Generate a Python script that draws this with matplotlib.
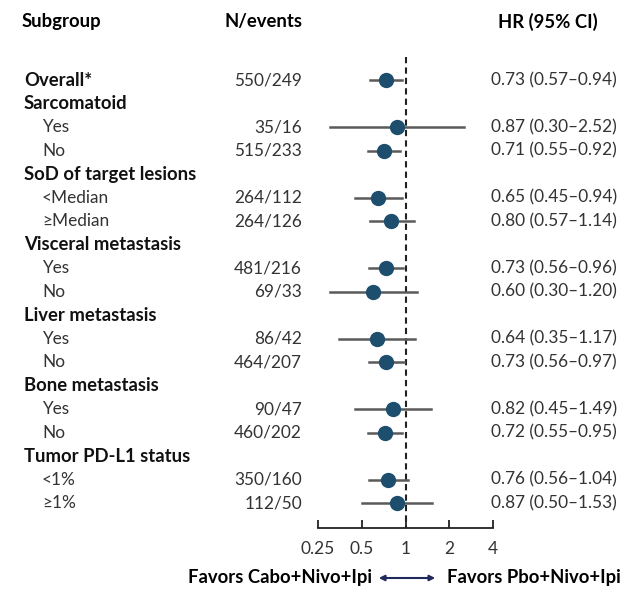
import matplotlib.pyplot as plt
from matplotlib.transforms import blended_transform_factory

plt.rcParams['font.family'] = ['Lato', 'DejaVu Sans']

# rows: (label, is_header)
labels = ["Overall*", "Sarcomatoid", "Yes", "No", "SoD of target lesions", "<Median", "\u2265Median",
          "Visceral metastasis", "Yes", "No", "Liver metastasis", "Yes", "No",
          "Bone metastasis", "Yes", "No", "Tumor PD-L1 status", "<1%", "\u22651%"]
bold = [True, True, False, False, True, False, False, True, False, False, True, False, False,
        True, False, False, True, False, False]
n_events = ["550/249", "", "35/16", "515/233", "", "264/112", "264/126", "", "481/216", "69/33",
            "", "86/42", "464/207", "", "90/47", "460/202", "", "350/160", "112/50"]
hr = [0.73, None, 0.87, 0.71, None, 0.65, 0.80, None, 0.73, 0.60, None, 0.64, 0.73,
      None, 0.82, 0.72, None, 0.76, 0.87]
lo = [0.57, None, 0.30, 0.55, None, 0.45, 0.57, None, 0.56, 0.30, None, 0.35, 0.56,
      None, 0.45, 0.55, None, 0.56, 0.50]
hi = [0.94, None, 2.52, 0.92, None, 0.94, 1.14, None, 0.96, 1.20, None, 1.17, 0.97,
      None, 1.49, 0.95, None, 1.04, 1.53]
ticks = [0.25, 0.5, 1, 2, 4]
tick_labels = ["0.25", "0.5", "1", "2", "4"]

W, H = 641, 592
fig = plt.figure(figsize=(W / 100, H / 100), dpi=100)
fig.patch.set_facecolor('white')

row0, step = 80, 23.5
top_px, bot_px = 10, 528
ax = fig.add_axes([318 / W, 1 - bot_px / H, (493 - 318) / W, (bot_px - top_px) / H])
ax.set_xscale('log')
ax.set_xlim(0.25, 4)
ax.set_ylim((bot_px - row0) / step, (top_px - row0) / step)
for s in ['top', 'right', 'left']:
    ax.spines[s].set_visible(False)
ax.spines['bottom'].set_linewidth(1.3)
ax.spines['bottom'].set_color('#222222')
ax.set_yticks([])
ax.set_xticks(ticks)
ax.set_xticklabels(tick_labels)
ax.minorticks_off()
ax.tick_params(axis='x', direction='in', length=6, width=1.3, color='#222222',
               labelsize=12.5, pad=9, labelcolor='#333333')
ax.patch.set_alpha(0)

ax.plot([1, 1], [(57 - row0) / step, (bot_px - row0) / step], ls=(0, (3, 2)), color='#222222', lw=1.5,
        clip_on=False)

color_pt = '#1d4e6e'
for i in range(len(labels)):
    if hr[i] is None:
        continue
    ax.plot([lo[i], hi[i]], [i, i], color='#5a5a5a', lw=1.8, zorder=2)
    ax.plot(hr[i], i, 'o', color=color_pt, ms=10, zorder=3)

tr = blended_transform_factory(fig.transFigure, ax.transData)
fs = 12.4
fb = 13.3
hy = (22 - row0) / step
ax.text(22 / W, hy, "Subgroup", transform=tr, fontsize=fb, fontweight='bold', va='center', ha='left')
ax.text(302 / W, hy, "N/events", transform=tr, fontsize=fb, fontweight='bold', va='center', ha='right')
ax.text(498 / W, hy, "HR (95% CI)", transform=tr, fontsize=fb, fontweight='bold', va='center', ha='left')

for i, lab in enumerate(labels):
    x = 24 if bold[i] else 42
    ax.text(x / W, i, lab, transform=tr, fontsize=fb if bold[i] else fs,
            fontweight='bold' if bold[i] else 'normal',
            va='center', ha='left', color='#111111' if bold[i] else '#333333')
    if n_events[i]:
        ax.text(302 / W, i, n_events[i], transform=tr, fontsize=fs, va='center', ha='right', color='#333333')
    if hr[i] is not None:
        ax.text(491 / W, i, f"{hr[i]:.2f} ({lo[i]:.2f}\u2013{hi[i]:.2f})", transform=tr, fontsize=fs,
                va='center', ha='left', color='#333333')

fy = 1 - 578 / H
fig.text(372 / W, fy, "Favors Cabo+Nivo+Ipi", fontsize=fb, fontweight='bold', va='center', ha='right')
fig.text(447 / W, fy, "Favors Pbo+Nivo+Ipi", fontsize=fb, fontweight='bold', va='center', ha='left')
fig.add_artist(plt.matplotlib.patches.FancyArrowPatch((376 / W, fy), (438 / W, fy), transform=fig.transFigure,
                                                      arrowstyle='<|-|>', mutation_scale=8, color='#1f2a5a', lw=1.5))

fig.savefig('out.png', dpi=100)
